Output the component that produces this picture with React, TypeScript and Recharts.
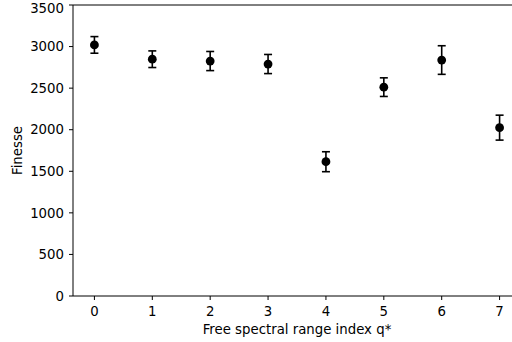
import React from "react";
import { ScatterChart, Scatter, XAxis, YAxis, ErrorBar, ReferenceLine, Label } from "recharts";

const qIndex = [0, 1, 2, 3, 4, 5, 6, 7];
const finesse = [3020, 2848, 2826, 2790, 1615, 2512, 2838, 2025];
const finesseErr = [100, 100, 115, 115, 120, 112, 172, 150];
const xTicks = [0, 1, 2, 3, 4, 5, 6, 7];
const yTicks = [0, 500, 1000, 1500, 2000, 2500, 3000, 3500];

const data = qIndex.map((q, i) => ({ x: q, y: finesse[i], err: finesseErr[i] }));

const FONT = "DejaVu Sans, sans-serif";
const tickStyle = { fontFamily: FONT, fontSize: 13.3, fill: "#000" };

const Dot = (props: any) => <circle cx={props.cx} cy={props.cy} r={4.4} fill="#000" />;

export default function App() {
  return (
    <div style={{ position: "absolute", left: 0, top: 0, width: 512, height: 342, overflow: "hidden", background: "#fff" }}>
      <ScatterChart width={530} height={342} margin={{ top: 5, right: 9, bottom: 0, left: 0 }}>
        <XAxis
          type="number"
          dataKey="x"
          domain={[-0.37, 7.37]}
          ticks={xTicks}
          allowDataOverflow
          height={46}
          stroke="#000"
          tickSize={4}
          tickMargin={7}
          tick={tickStyle}
          tickLine={{ stroke: "#000" }}
        >
          <Label value="Free spectral range index q*" position="insideBottom" offset={8} style={{ fontFamily: FONT, fontSize: 13.3, fill: "#000" }} />
        </XAxis>
        <YAxis
          type="number"
          dataKey="y"
          domain={[0, 3500]}
          ticks={yTicks}
          allowDataOverflow
          width={73}
          stroke="#000"
          tickSize={4}
          tickMargin={5}
          tick={tickStyle}
          tickLine={{ stroke: "#000" }}
        >
          <Label value="Finesse" angle={-90} position="insideLeft" offset={17} style={{ fontFamily: FONT, fontSize: 13.3, fill: "#000", textAnchor: "middle" }} />
        </YAxis>
        <ReferenceLine y={3500} stroke="#000" strokeWidth={1} ifOverflow="visible" />
        <ReferenceLine x={7.37} stroke="#000" strokeWidth={1} ifOverflow="visible" />
        <Scatter data={data} dataKey="y" shape={Dot} isAnimationActive={false}>
          <ErrorBar dataKey="err" direction="y" width={4} stroke="#000" strokeWidth={1.6} isAnimationActive={false} />
        </Scatter>
      </ScatterChart>
    </div>
  );
}
